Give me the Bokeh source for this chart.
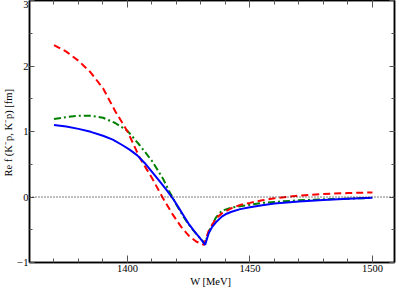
from bokeh.plotting import figure
from bokeh.models import LinearAxis, SingleIntervalTicker, Range1d, Span, CustomJSTickFormatter
from bokeh.embed import file_html
from bokeh.resources import INLINE

# Data
w_blue = [1370, 1375, 1380, 1385, 1390, 1394, 1398, 1401, 1404, 1407, 1410, 1413, 1416, 1419,
          1421, 1423, 1425, 1427, 1429, 1430.5, 1431.7, 1433.2, 1434.5, 1436, 1438.5, 1440.5,
          1442.5, 1446, 1450, 1455, 1460, 1465, 1470, 1480, 1490, 1500]
v_blue = [1.10, 1.075, 1.04, 0.995, 0.935, 0.875, 0.79, 0.72, 0.635, 0.52, 0.385, 0.245, 0.105,
          -0.05, -0.17, -0.29, -0.41, -0.51, -0.60, -0.67, -0.73, -0.55, -0.46, -0.39, -0.30,
          -0.255, -0.225, -0.185, -0.155, -0.125, -0.10, -0.085, -0.07, -0.045, -0.025, -0.01]

w_red = [1370, 1375, 1380, 1385, 1390, 1395, 1400, 1405, 1410, 1414.5, 1418.5, 1422, 1425,
         1428, 1431.2, 1433, 1436, 1438.5, 1442.5, 1446, 1450, 1455, 1460, 1470, 1480, 1490, 1500]
v_red = [2.32, 2.22, 2.08, 1.90, 1.66, 1.31, 1.00, 0.60, 0.29, -0.02, -0.27, -0.46, -0.59,
         -0.68, -0.73, -0.53, -0.33, -0.25, -0.17, -0.12, -0.09, -0.05, -0.02, 0.02, 0.045, 0.06, 0.07]

w_green = [1370, 1375, 1380, 1385, 1390, 1395, 1400, 1405, 1410, 1414.5, 1417, 1420, 1423,
           1425, 1428, 1430.5, 1431.6, 1433, 1436, 1438.5, 1442.5, 1446, 1450, 1455, 1460,
           1470, 1480, 1490, 1500]
v_green = [1.19, 1.22, 1.24, 1.24, 1.21, 1.13, 1.01, 0.79, 0.55, 0.28, 0.09, -0.12, -0.31,
           -0.42, -0.56, -0.66, -0.72, -0.55, -0.32, -0.21, -0.16, -0.14, -0.12, -0.09, -0.075,
           -0.05, -0.035, -0.025, -0.015]

x_range = (1360, 1509)
y_range = (-1, 3)

FONT = "Liberation Serif"
TICK_COLOR = "#555555"

p = figure(width=399, height=289, output_backend="svg", toolbar_location=None,
           x_range=Range1d(*x_range), y_range=Range1d(*y_range),
           min_border_left=0, min_border_right=5, min_border_top=0, min_border_bottom=0)

p.grid.visible = False
p.background_fill_color = "white"
p.outline_line_color = "black"
p.outline_line_width = 1.5

xa = p.xaxis[0]
xa.ticker = SingleIntervalTicker(interval=50, num_minor_ticks=5)
ya = p.yaxis[0]
ya.ticker = SingleIntervalTicker(interval=1, num_minor_ticks=2)

xa.major_tick_in, xa.major_tick_out, xa.minor_tick_in, xa.minor_tick_out = 7, 0, 4, 0
ya.major_tick_in, ya.major_tick_out, ya.minor_tick_in, ya.minor_tick_out = 5, 0, 3, 0

for ax in (xa, ya):
    ax.axis_line_color = "black"
    ax.axis_line_width = 1.5
    ax.major_tick_line_color = TICK_COLOR
    ax.minor_tick_line_color = TICK_COLOR
    ax.major_label_text_font = FONT
    ax.major_label_text_font_size = "10.5px"
    ax.major_label_text_color = "black"
    ax.axis_label_text_font = FONT
    ax.axis_label_text_font_size = "10.5px"
    ax.axis_label_text_font_style = "normal"
    ax.axis_label_text_color = "black"
    ax.major_label_standoff = 1
    ax.axis_label_standoff = 0

xa.major_label_standoff = 2
xa.axis_label_standoff = 1
xa.axis_label = "W  [MeV]"
ya.axis_label = "Re f (K\u207bp, K\u207bp)  [fm]"

blank = CustomJSTickFormatter(code="return ''")

# mirrored axes (top & right), ticks only
top = LinearAxis(ticker=SingleIntervalTicker(interval=50, num_minor_ticks=5),
                 formatter=blank,
                 major_tick_in=7, major_tick_out=0, minor_tick_in=4, minor_tick_out=0,
                 major_label_standoff=0,
                 axis_line_color="black", axis_line_width=1.5,
                 major_tick_line_color=TICK_COLOR, minor_tick_line_color=TICK_COLOR)
right = LinearAxis(ticker=SingleIntervalTicker(interval=1, num_minor_ticks=2),
                   formatter=blank,
                   major_tick_in=5, major_tick_out=0, minor_tick_in=3, minor_tick_out=0,
                   major_label_standoff=0,
                   axis_line_color="black", axis_line_width=1.5,
                   major_tick_line_color=TICK_COLOR, minor_tick_line_color=TICK_COLOR)
p.add_layout(top, "above")
p.add_layout(right, "right")

# zero line
p.add_layout(Span(location=0, dimension="width", line_color="black",
                  line_dash="1 2", line_width=1))

p.line(w_green, v_green, line_color="#008000", line_width=2, line_dash="7 3 2 3")
p.line(w_red, v_red, line_color="#ff0000", line_width=2, line_dash="7 4")
p.line(w_blue, v_blue, line_color="#0000ff", line_width=2)

open("out.html", "w").write(file_html(p, INLINE))
